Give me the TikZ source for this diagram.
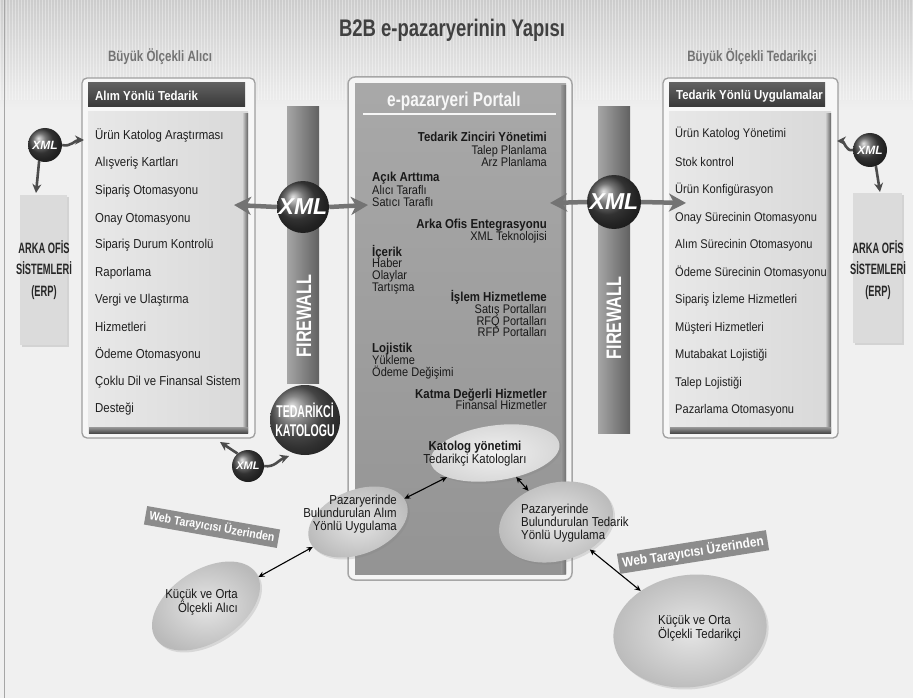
\documentclass[tikz,border=0pt]{standalone}
\usepackage{fontspec}
\setmainfont{Liberation Sans}
\newfontfamily\cond[FakeStretch=0.88]{Liberation Sans}
\newfontfamily\tcond[FakeStretch=0.77]{Liberation Sans}
\newfontfamily\ycond[FakeStretch=0.62]{Liberation Sans}
\usetikzlibrary{arrows.meta,shapes.geometric,shadows}
\begin{document}
\begin{tikzpicture}[x=1pt,y=-1pt,
  item/.style={anchor=base west,inner sep=0pt,text=black!88,font=\cond\fontsize{13}{13}\selectfont},
  ritem/.style={item,font=\cond\fontsize{12.6}{13}\selectfont},
  pr/.style={anchor=base east,inner sep=0pt,text=black!90,font=\cond\fontsize{12.5}{12.5}\selectfont},
  pl/.style={anchor=base west,inner sep=0pt,text=black!90,font=\cond\fontsize{12.5}{12.5}\selectfont},
  prb/.style={pr,font=\cond\bfseries\fontsize{13}{13}\selectfont},
  plb/.style={pl,font=\cond\bfseries\fontsize{13}{13}\selectfont},
  headtxt/.style={anchor=west,inner sep=0pt,text=white,font=\cond\bfseries\fontsize{13}{13}\selectfont},
  xmlball/.style={circle,inner sep=0pt,shading=ball,ball color=black!72,text=white,font=\bfseries\itshape\fontsize{#1}{#1}\selectfont},
  bigarrow/.style={line width=4.5pt,draw=black!55,-{Stealth[length=17pt,width=18pt,inset=5pt]}},
  smallarrow/.style={line width=2.6pt,draw=black!70,-{Stealth[length=9pt,width=9pt,inset=3pt]}},
  thinarrow/.style={line width=1.1pt,draw=black,{Stealth[length=6pt,width=5.5pt]}-{Stealth[length=6pt,width=5.5pt]}},
  oval/.style={ellipse,inner sep=0pt,inner color=black!10,outer color=black!27,draw=none,
     drop shadow={opacity=0.22,shadow xshift=2pt,shadow yshift=-2pt}},
  etext/.style={inner sep=0pt,text=black!90,font=\cond\fontsize{13}{13}\selectfont},
  banner/.style={fill=black!45,text=white,inner xsep=4pt,inner ysep=3pt},
  erptxt/.style={align=center,inner sep=0pt,text=black!85,font=\ycond\bfseries\fontsize{15}{21.5}\selectfont},
  fwtxt/.style={rotate=90,inner sep=0pt,text=white,font=\tcond\bfseries\fontsize{21}{21}\selectfont}
]
\useasboundingbox (0,0) rectangle (913,698);
% background
\fill[black!6] (0,0) rectangle (913,698);
\shade[top color=black!20,bottom color=black!6] (0,0) rectangle (913,110);
\foreach \i in {0,3,...,912} \draw[white,opacity=0.35,line width=0.9pt] (\i,0) -- (\i,100);
\draw[black!35,line width=0.8pt] (4,0) -- (4,698);

% titles
\node[inner sep=0pt,text=black!75,font=\tcond\bfseries\fontsize{24}{24}\selectfont] (title) at (452,30) {B2B e-pazaryerinin Yapısı};
\node[inner sep=0pt,text=black!55,font=\tcond\bfseries\fontsize{15}{15}\selectfont] (tl) at (160,57) {Büyük Ölçekli Alıcı};
\node[inner sep=0pt,text=black!55,font=\tcond\bfseries\fontsize{15}{15}\selectfont] (tr) at (752,57) {Büyük Ölçekli Tedarikçi};

% ===== left box =====
\draw[line width=1.3pt,draw=black!38,fill=black!3,rounded corners=5pt] (82,78) rectangle (255,438);
\shade[left color=black!9,right color=black!15] (88,112) rectangle (248,433);
\shade[left color=black!22,right color=black!62] (243,114) rectangle (248,432);
\shade[top color=black!40,bottom color=black!70] (89,427) rectangle (248,433);
\shade[top color=black!62,bottom color=black!78] (88,83) rectangle (245,107);
\node[headtxt] (lhead) at (95,96) {Alım Yönlü Tedarik};
\foreach \t/\y [count=\i] in {Ürün Katolog Araştırması/135,Alışveriş Kartları/162,Sipariş Otomasyonu/190,Onay Otomasyonu/218,Sipariş Durum Kontrolü/244,Raporlama/272,Vergi ve Ulaştırma/299,Hizmetleri/327,Ödeme Otomasyonu/354,Çoklu Dil ve Finansal Sistem/381,Desteği/408}
  \node[item] (la\i) at (95,\y+4.5) {\t};

% ===== right box =====
\draw[line width=1.3pt,draw=black!38,fill=black!3,rounded corners=5pt] (663,78) rectangle (838,438);
\shade[left color=black!9,right color=black!15] (669,112) rectangle (831,433);
\shade[left color=black!22,right color=black!62] (826,114) rectangle (831,432);
\shade[top color=black!40,bottom color=black!70] (670,427) rectangle (831,433);
\shade[top color=black!62,bottom color=black!78] (669,83) rectangle (825,107);
\node[headtxt] (rhead) at (676,96) {Tedarik Yönlü Uygulamalar};
\foreach \t/\y [count=\i] in {Ürün Katolog Yönetimi/133,Stok kontrol/162,Ürün Konfigürasyon/189,Onay Sürecinin Otomasyonu/217,Alım Sürecinin Otomasyonu/244,Ödeme Sürecinin Otomasyonu/272,Sipariş İzleme Hizmetleri/299,Müşteri Hizmetleri/327,Mutabakat Lojistiği/354,Talep Lojistiği/382,Pazarlama Otomasyonu/409}
  \node[ritem] (ra\i) at (675,\y+4.5) {\t};

% ===== ERP boxes =====
\fill[black!14,drop shadow={opacity=0.25,shadow xshift=2pt,shadow yshift=-2pt}] (20,195) rectangle (67,345);
\node[erptxt] (erpL) at (44,270) {ARKA OFİS\\SİSTEMLERİ\\(ERP)};
\fill[black!14,drop shadow={opacity=0.25,shadow xshift=2pt,shadow yshift=-2pt}] (853,193) rectangle (902,343);
\node[erptxt] (erpR) at (878,270) {ARKA OFİS\\SİSTEMLERİ\\(ERP)};

% ===== portal =====
\draw[line width=1.5pt,draw=black!35,fill=black!4,rounded corners=7pt] (348,77) rectangle (572,580);
\shade[top color=black!34,bottom color=black!42] (355,84) rectangle (566,574);
\shade[left color=black!40,right color=black!55] (561,86) rectangle (566,573);
\node[inner sep=0pt,text=black!3,font=\tcond\bfseries\fontsize{20}{20}\selectfont] (ptitle) at (454,101) {e-pazaryeri Portalı};
\draw[black!3,line width=1.6pt] (363,114) -- (556,114);

\node[prb] (p1) at (547,142) {Tedarik Zinciri Yönetimi};
\node[pr] (p2) at (547,154) {Talep Planlama};
\node[pr] (p3) at (547,166) {Arz Planlama};
\node[plb] (p4) at (372,182) {Açık Arttıma};
\node[pl] (p5) at (372,194) {Alıcı Taraflı};
\node[pl] (p6) at (372,206) {Satıcı Taraflı};
\node[prb] (p7) at (547,228) {Arka Ofis Entegrasyonu};
\node[pr] (p8) at (547,240) {XML Teknolojisi};
\node[plb] (p9) at (372,256) {İçerik};
\node[pl] (p10) at (372,267) {Haber};
\node[pl] (p11) at (372,279) {Olaylar};
\node[pl] (p12) at (372,291) {Tartışma};
\node[prb] (p13) at (547,301) {İşlem Hizmetleme};
\node[pr] (p14) at (547,313) {Satış Portalları};
\node[pr] (p15) at (547,325) {RFQ Portalları};
\node[pr] (p16) at (547,336) {RFP Portalları};
\node[plb] (p17) at (372,352) {Lojistik};
\node[pl] (p18) at (372,364) {Yükleme};
\node[pl] (p19) at (372,376) {Ödeme Değişimi};
\node[prb] (p20) at (547,398) {Katma Değerli Hizmetler};
\node[pr] (p21) at (547,409) {Finansal Hizmetler};

% ===== firewalls =====
\shade[left color=black!35,right color=black!62] (287,107) rectangle (319,383);
\node[fwtxt] (fwL) at (304,316) {FIREWALL};
\shade[left color=black!35,right color=black!62] (598,107) rectangle (630,433);
\node[fwtxt] (fwR) at (614,318) {FIREWALL};

% ===== XML balls & big arrows =====
\node[xmlball=23,minimum size=52pt] (xmlL) at (303,207) {XML};
\coordinate (ltA) at (234,205);
\coordinate (ltB) at (368,205);
\draw[bigarrow] (xmlL.west) -- (ltA);
\draw[bigarrow] (xmlL.east) -- (ltB);
\node[xmlball=23,minimum size=54pt] (xmlR) at (614,202) {XML};
\coordinate (rtA) at (550,203);
\coordinate (rtB) at (686,203);
\draw[bigarrow] (xmlR.west) -- (rtA);
\draw[bigarrow] (xmlR.east) -- (rtB);

\node[circle,inner sep=0pt,minimum size=70pt,shading=ball,ball color=black!62,text=white,align=center,
  font=\ycond\bfseries\fontsize{17}{18.5}\selectfont] (katball) at (305,420) {TEDARİKCİ\\KATOLOGU};

% small XML balls
\node[xmlball=12,minimum size=34pt] (xe1) at (45,145) {XML};
\coordinate (xe1a) at (84,140);
\coordinate (xe1b) at (36,193);
\draw[smallarrow] (xe1.east) to[out=-15,in=180] (xe1a);
\draw[smallarrow] (xe1.250) -- (xe1b);
\node[xmlball=12,minimum size=34pt] (xe2) at (870,150) {XML};
\coordinate (xe2a) at (837,141);
\coordinate (xe2b) at (880,192);
\draw[smallarrow] (xe2.west) to[out=195,in=0] (xe2a);
\draw[smallarrow] (xe2.290) -- (xe2b);
\node[xmlball=11,minimum size=32pt] (xe3) at (248,466) {XML};
\coordinate (xe3a) at (220,442);
\coordinate (xe3b) at (289,456);
\draw[smallarrow] (xe3.130) -- (xe3a);
\draw[smallarrow] (xe3.east) to[out=-10,in=200] (xe3b);

% ===== ellipses =====
\node[oval,inner color=black!6,outer color=black!16,minimum width=130pt,minimum height=55pt,rotate=8] (cat) at (495,453) {};
\node[inner sep=0pt,align=center,text=black!90,font=\cond\fontsize{13}{12}\selectfont] (cattxt) at (475,454) {\textbf{Katolog yönetimi}\\Tedarikçi Katologları};
\node[oval,minimum width=104pt,minimum height=64pt,rotate=22] (mpA) at (358,522) {};
\node[etext,align=right,anchor=east] (mpAtxt) at (397,514) {Pazaryerinde\\Bulundurulan Alım\\Yönlü Uygulama};
\node[oval,minimum width=116pt,minimum height=78pt,rotate=15] (mpT) at (556,522) {};
\node[etext,align=left,anchor=west] (mpTtxt) at (521,523) {Pazaryerinde\\Bulundurulan Tedarik\\Yönlü Uygulama};
\node[oval,minimum width=120pt,minimum height=72pt,rotate=33] (smA) at (206,606) {};
\node[etext,align=right,anchor=east] (smAtxt) at (238,602) {Küçük ve Orta\\Ölçekli Alıcı};
\node[oval,minimum width=154pt,minimum height=112pt,rotate=8] (smT) at (690,631) {};
\node[etext,align=left,anchor=west] (smTtxt) at (658,628) {Küçük ve Orta\\Ölçekli Tedarikçi};

\draw[thinarrow] (cat) -- (mpA);
\draw[thinarrow] (cat) -- (mpT);
\draw[thinarrow] (mpA) -- (smA);
\draw[thinarrow] (mpT) -- (smT);

% banners
\node[banner,rotate=-10,font=\cond\bfseries\fontsize{12}{12}\selectfont] (bnL) at (212,527) {Web Tarayıcısı Üzerinden};
\node[banner,rotate=9,font=\cond\bfseries\fontsize{13.5}{13.5}\selectfont] (bnR) at (693,552) {Web Tarayıcısı Üzerinden};
\end{tikzpicture}
\end{document}
